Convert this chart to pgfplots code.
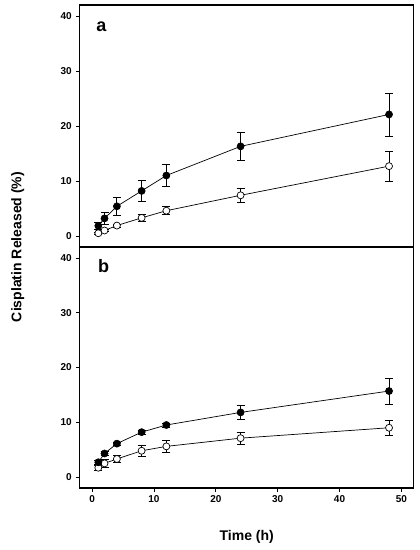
\documentclass[border=0pt]{standalone}
\usepackage{pgfplots}
\pgfplotsset{compat=1.18}
\usepackage{fontspec}
\setmainfont{Liberation Sans}
\begin{document}
\pgfplotsset{
  panel/.style={
    scale only axis, width=334pt,
    xmin=-2, xmax=52, ymin=-2, ymax=42,
    axis line style={line width=1.1pt},
    ytick={0,10,20,30,40},
    xtick={0,10,20,30,40,50},
    tick align=outside, tick pos=left,
    major tick length=3.5pt,
    every tick/.style={black, line width=0.8pt},
    tick label style={font=\fontsize{10}{12}\selectfont\bfseries},
    /pgf/number format/assume math mode=true,
    yticklabel style={xshift=-1pt},
    clip=false,
  },
  filled/.style={black, line width=0.7pt, mark=*, mark size=3.5pt,
    mark options={solid, fill=black},
    error bars/.cd, y dir=both, y explicit,
    error bar style={line width=0.8pt},
    error mark options={rotate=90, mark size=4pt, line width=0.8pt}},
  open/.style={black, line width=0.7pt, mark=*, mark size=3.5pt,
    mark options={solid, fill=white},
    error bars/.cd, y dir=both, y explicit,
    error bar style={line width=0.8pt},
    error mark options={rotate=90, mark size=4pt, line width=0.8pt}},
}
\begin{tikzpicture}
\useasboundingbox (-77pt,-62pt) rectangle (340pt,488pt);
% panel b (bottom)
\begin{axis}[panel, height=241pt, at={(0pt,0pt)}, anchor=south west]
\addplot+[open] table[x=x, y=y, y error=e] {
x y e
1 1.7 0.5
2 2.5 0.8
4 3.3 0.65
8 4.8 1.05
12 5.6 1.1
24 7.1 1.05
48 9.0 1.35
};
\addplot+[filled] table[x=x, y=y, y error=e] {
x y e
1 2.7 0.4
2 4.3 0.3
4 6.1 0.3
8 8.2 0.35
12 9.5 0.35
24 11.8 1.3
48 15.7 2.35
};
\node[anchor=base west, font=\fontsize{18}{20}\selectfont\bfseries] at (axis cs:0.4,37.3) {b};
\end{axis}
% panel a (top)
\begin{axis}[panel, height=242pt, at={(0pt,241pt)}, anchor=south west, xtick=\empty]
\addplot+[open] table[x=x, y=y, y error=e] {
x y e
1 0.5 0.2
2 1.0 0.2
4 1.9 0.3
8 3.3 0.6
12 4.6 0.75
24 7.4 1.3
48 12.7 2.75
};
\addplot+[filled] table[x=x, y=y, y error=e] {
x y e
1 1.85 0.7
2 3.2 1.1
4 5.4 1.6
8 8.2 1.85
12 11.0 2.0
24 16.3 2.6
48 22.1 3.9
};
\node[anchor=base west, font=\fontsize{18}{20}\selectfont\bfseries] at (axis cs:0.1,37.1) {a};
\end{axis}
\node[rotate=90, font=\fontsize{14}{16}\selectfont\bfseries] at (-62pt,241pt) {Cisplatin Released (\%)};
\node[font=\fontsize{14}{16}\selectfont\bfseries] at (167pt,-49pt) {Time (h)};
\end{tikzpicture}
\end{document}
